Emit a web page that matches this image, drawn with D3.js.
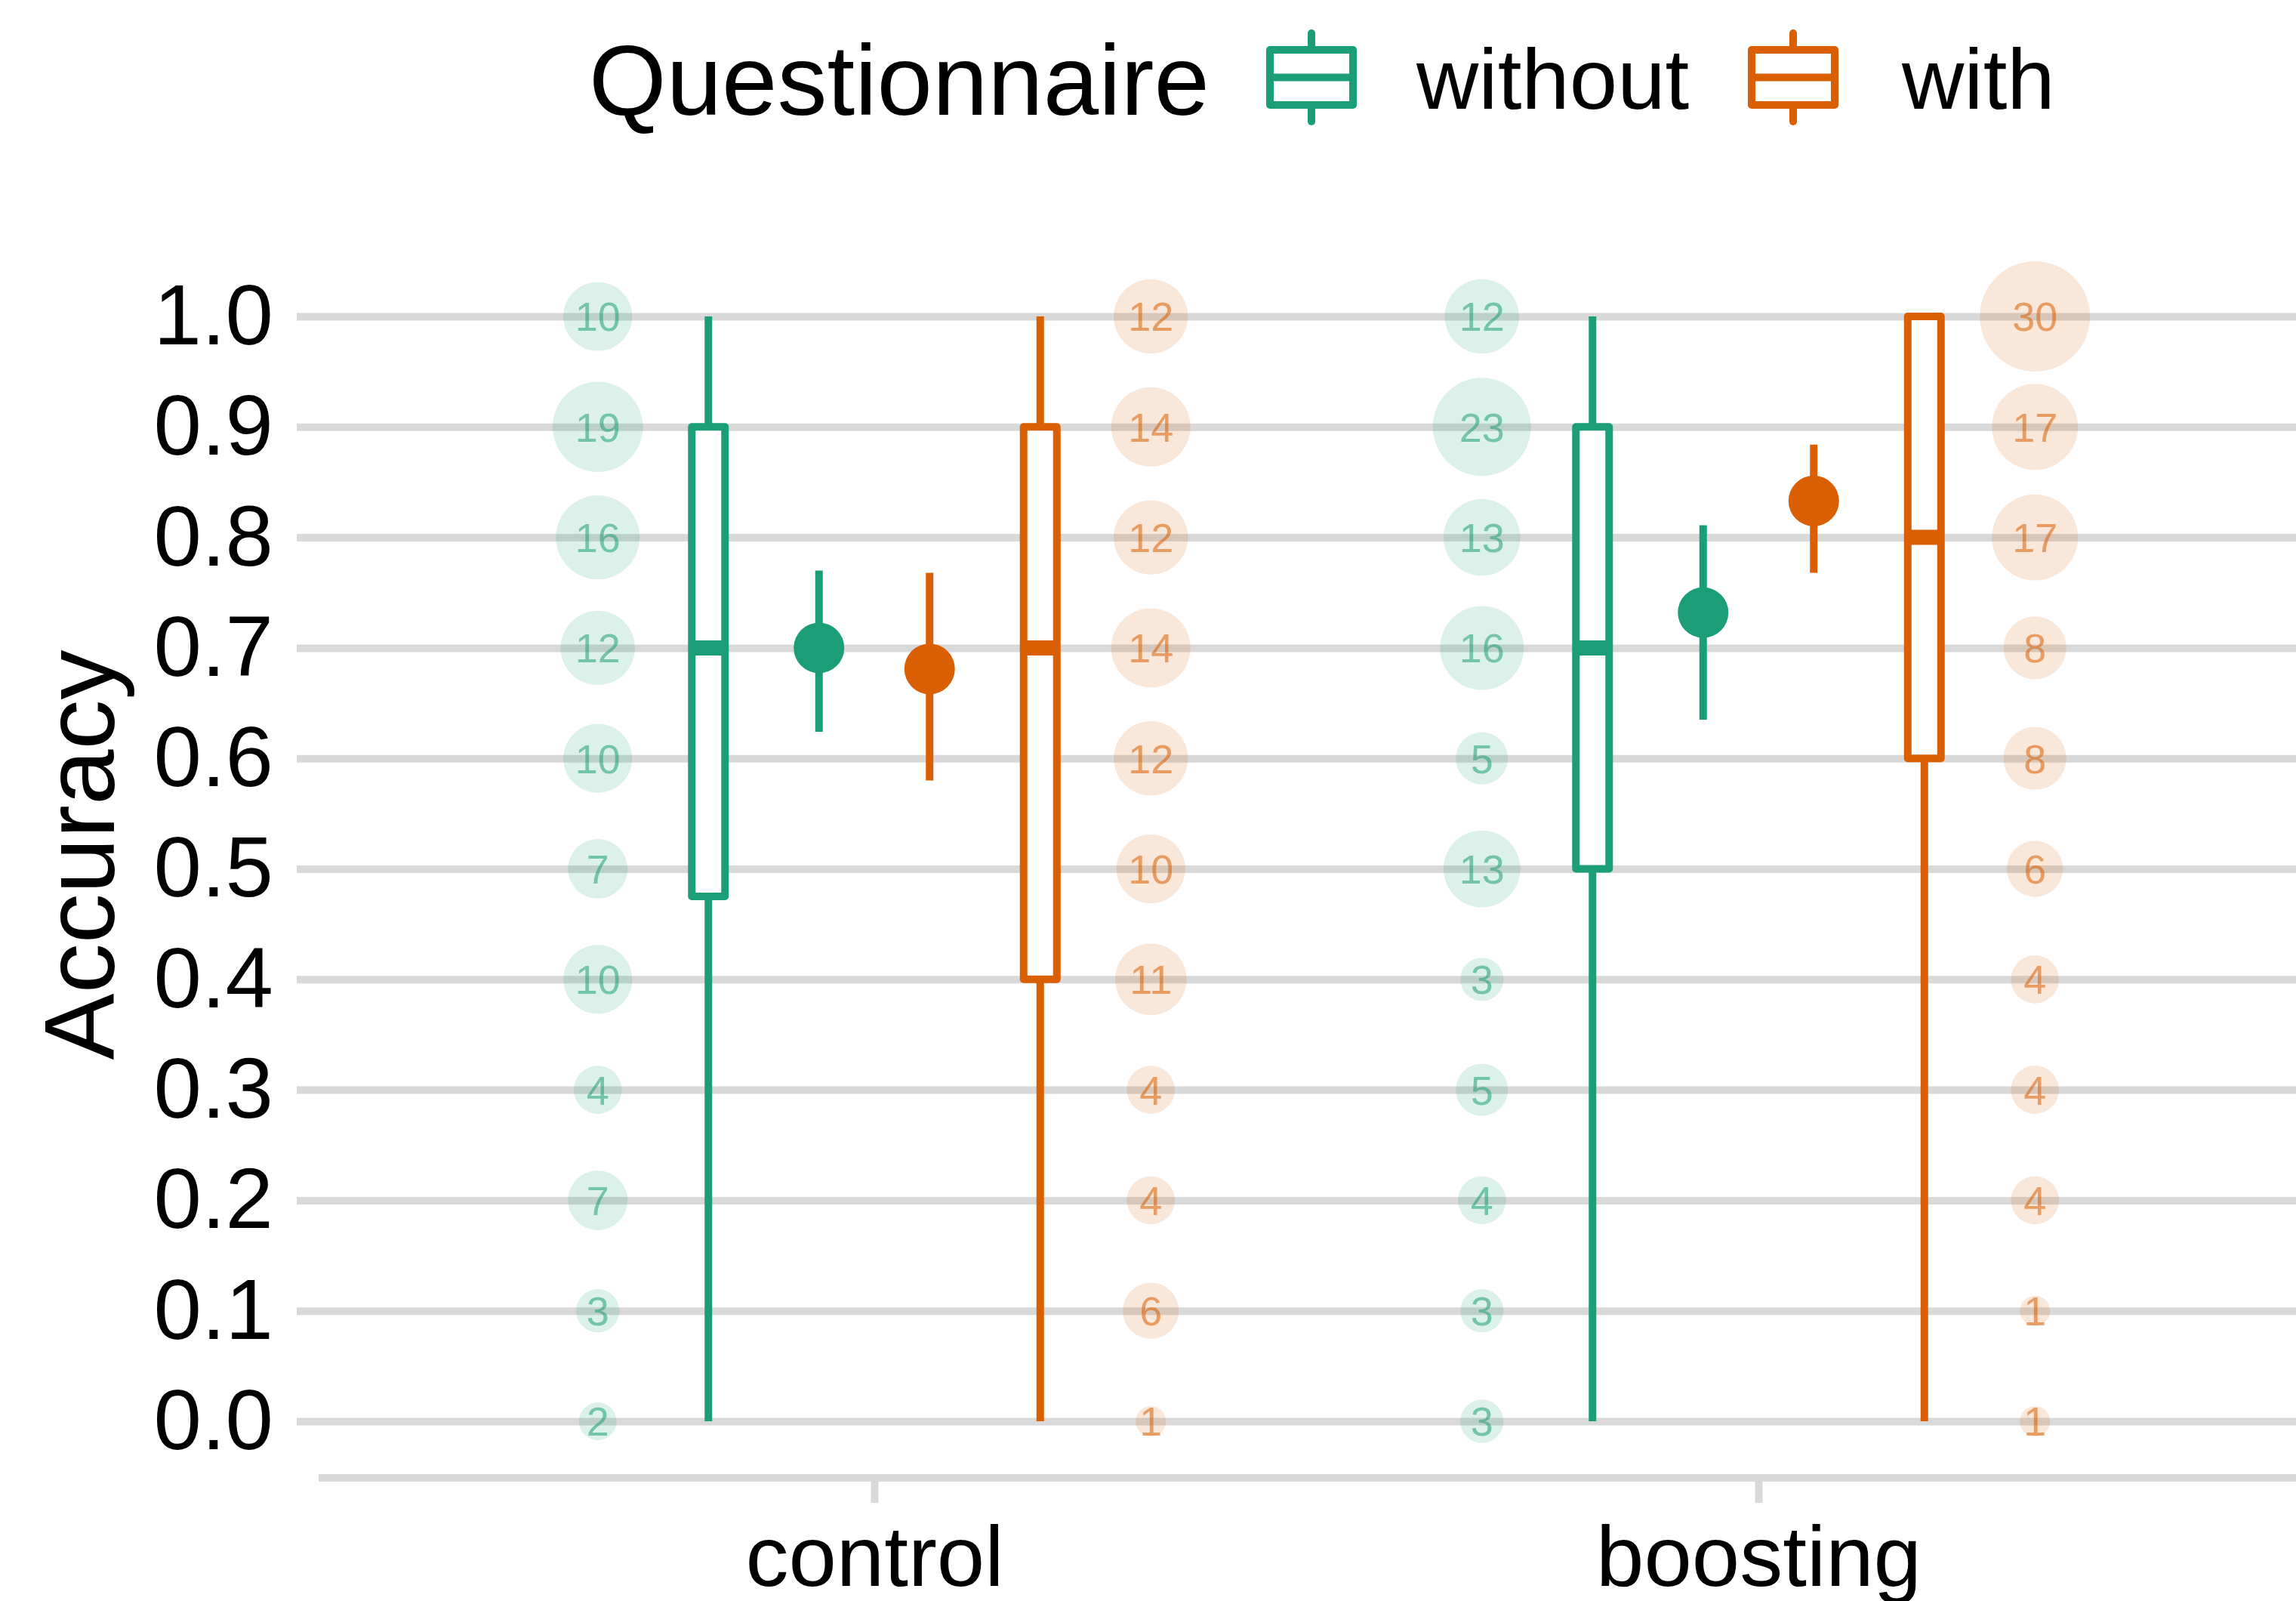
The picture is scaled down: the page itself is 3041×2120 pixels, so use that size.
<!DOCTYPE html>
<html>
<head>
<meta charset="utf-8">
<script src="https://cdn.jsdelivr.net/npm/d3@7"></script>
<style>
  html, body { margin: 0; padding: 0; background: #ffffff; }
  svg { display: block; }
  text { font-family: "Liberation Sans", Arial, Helvetica, sans-serif; }
</style>
</head>
<body>
<script>
// ---------------- data ----------------
const categories = ["control", "boosting"];
const groups = ["without", "with"];
const accuracyLevels = [0.0, 0.1, 0.2, 0.3, 0.4, 0.5, 0.6, 0.7, 0.8, 0.9, 1.0];

// counts per accuracy level (0.0 ... 1.0)
const countsControlWithout  = [2, 3, 7, 4, 10, 7, 10, 12, 16, 19, 10];
const countsControlWith     = [1, 6, 4, 4, 11, 10, 12, 14, 12, 14, 12];
const countsBoostingWithout = [3, 3, 4, 5, 3, 13, 5, 16, 13, 23, 12];
const countsBoostingWith    = [1, 1, 4, 4, 4, 6, 8, 8, 17, 17, 30];

// box statistics: [min, q1, median, q3, max]
const boxControlWithout  = [0, 0.475, 0.7, 0.9, 1.0];
const boxControlWith     = [0, 0.4, 0.7, 0.9, 1.0];
const boxBoostingWithout = [0, 0.5, 0.7, 0.9, 1.0];
const boxBoostingWith    = [0, 0.6, 0.8, 1.0, 1.0];

// mean with interval: [mean, low, high]
const meanControlWithout  = [0.700, 0.624, 0.770];
const meanControlWith     = [0.681, 0.580, 0.768];
const meanBoostingWithout = [0.732, 0.635, 0.811];
const meanBoostingWith    = [0.833, 0.768, 0.884];

const legendTitle = "Questionnaire";
const yTitle = "Accuracy";
const groupColors = ["#1B9E77", "#D95F02"];

// ---------------- assemble ----------------
const countTable = {
  control: { without: countsControlWithout, with: countsControlWith },
  boosting: { without: countsBoostingWithout, with: countsBoostingWith }
};
const boxTable = {
  control: { without: boxControlWithout, with: boxControlWith },
  boosting: { without: boxBoostingWithout, with: boxBoostingWith }
};
const meanTable = {
  control: { without: meanControlWithout, with: meanControlWith },
  boosting: { without: meanBoostingWithout, with: meanBoostingWith }
};

const W = 3041, H = 2120;
const GRID = "#d9d9d9";

const svg = d3.select("body").append("svg")
  .attr("width", W).attr("height", H)
  .attr("viewBox", `0 0 ${W} ${H}`);
svg.append("rect").attr("width", W).attr("height", H).attr("fill", "#fff");

const y = d3.scaleLinear().domain([0, 1]).range([1882, 419]);
const x = d3.scalePoint().domain(categories).range([1158, 2329]);
const dodge = d3.scaleLinear().domain([-3, 3]).range([-439.5, 439.5]);
const color = d3.scaleOrdinal(groups, groupColors);
const rScale = d3.scaleSqrt().domain([1, 30]).range([20, 73]);

// slot offsets (in dodge units)
const slot = {
  bubble: { without: -2.5, with: 2.5 },
  box:    { without: -1.5, with: 1.5 },
  mean:   { without: -0.5, with: 0.5 }
};
const px = (cat, kind, g) => x(cat) + dodge(slot[kind][g]);

// ---------------- y axis + grid ----------------
const gridLeft = 393;
const yAxis = d3.axisLeft(y)
  .tickValues(accuracyLevels)
  .tickFormat(d3.format(".1f"))
  .tickSize(-(W - gridLeft))
  .tickPadding(31);
const gy = svg.append("g").attr("transform", `translate(${gridLeft},0)`).call(yAxis);
gy.select(".domain").remove();
gy.selectAll(".tick line").attr("stroke", GRID).attr("stroke-width", 10);
gy.selectAll(".tick text")
  .attr("font-size", 114).attr("fill", "#000")
  .attr("font-family", '"Liberation Sans", Arial, sans-serif');

// ---------------- x axis ----------------
const axisY = 1957;
svg.append("line")
  .attr("x1", 422).attr("x2", W).attr("y1", axisY).attr("y2", axisY)
  .attr("stroke", GRID).attr("stroke-width", 10);
const xAxis = d3.axisBottom(x).tickSize(33).tickPadding(0);
const gx = svg.append("g").attr("transform", `translate(0,${axisY})`).call(xAxis);
gx.select(".domain").remove();
gx.selectAll(".tick line").attr("stroke", GRID).attr("stroke-width", 10);
gx.selectAll(".tick text")
  .attr("y", 2100 - axisY).attr("dy", 0)
  .attr("font-size", 114).attr("fill", "#000")
  .attr("font-family", '"Liberation Sans", Arial, sans-serif');

// ---------------- y title ----------------
svg.append("text")
  .attr("transform", `translate(151,1132) rotate(-90)`)
  .attr("text-anchor", "middle")
  .attr("font-size", 132)
  .attr("fill", "#000")
  .text(yTitle);

// ---------------- bubbles ----------------
const bubbles = [];
categories.forEach(cat => groups.forEach(g => {
  countTable[cat][g].forEach((n, i) => bubbles.push({ cat, g, v: accuracyLevels[i], n }));
}));
const gb = svg.append("g");
gb.selectAll("circle").data(bubbles).join("circle")
  .attr("cx", d => px(d.cat, "bubble", d.g))
  .attr("cy", d => y(d.v))
  .attr("r", d => rScale(d.n))
  .attr("fill", d => color(d.g))
  .attr("fill-opacity", 0.15);
gb.selectAll("text").data(bubbles).join("text")
  .attr("x", d => px(d.cat, "bubble", d.g))
  .attr("y", d => y(d.v))
  .attr("dy", "0.36em")
  .attr("text-anchor", "middle")
  .attr("font-size", 54)
  .attr("fill", d => color(d.g))
  .attr("fill-opacity", 0.55)
  .text(d => d.n);

// ---------------- boxplots ----------------
const boxW = 44, LW = 10;
const boxes = [];
categories.forEach(cat => groups.forEach(g => boxes.push({ cat, g, s: boxTable[cat][g] })));
const gbox = svg.append("g");
boxes.forEach(d => {
  const cx = px(d.cat, "box", d.g);
  const c = color(d.g);
  const [mn, q1, md, q3, mx] = d.s;
  gbox.append("line").attr("x1", cx).attr("x2", cx).attr("y1", y(q3)).attr("y2", y(mx))
    .attr("stroke", c).attr("stroke-width", LW);
  gbox.append("line").attr("x1", cx).attr("x2", cx).attr("y1", y(q1)).attr("y2", y(mn))
    .attr("stroke", c).attr("stroke-width", LW);
  gbox.append("rect")
    .attr("x", cx - boxW / 2).attr("width", boxW)
    .attr("y", y(q3)).attr("height", y(q1) - y(q3))
    .attr("fill", "#fff").attr("stroke", c).attr("stroke-width", LW)
    .attr("stroke-linejoin", "round");
  gbox.append("line").attr("x1", cx - boxW / 2).attr("x2", cx + boxW / 2)
    .attr("y1", y(md)).attr("y2", y(md))
    .attr("stroke", c).attr("stroke-width", 20);
});

// ---------------- means ----------------
const means = [];
categories.forEach(cat => groups.forEach(g => means.push({ cat, g, m: meanTable[cat][g] })));
const gm = svg.append("g");
gm.selectAll("line").data(means).join("line")
  .attr("x1", d => px(d.cat, "mean", d.g)).attr("x2", d => px(d.cat, "mean", d.g))
  .attr("y1", d => y(d.m[1])).attr("y2", d => y(d.m[2]))
  .attr("stroke", d => color(d.g)).attr("stroke-width", 10);
gm.selectAll("circle").data(means).join("circle")
  .attr("cx", d => px(d.cat, "mean", d.g))
  .attr("cy", d => y(d.m[0]))
  .attr("r", 33.5)
  .attr("fill", d => color(d.g));

// ---------------- legend ----------------
const lg = svg.append("g");
lg.append("text").attr("x", 780).attr("y", 152)
  .attr("font-size", 132).attr("fill", "#000").text(legendTitle);
const keyCenters = [1737, 2375];
const labelX = [1876, 2519];
groups.forEach((g, i) => {
  const cx = keyCenters[i], c = color(g);
  const k = lg.append("g");
  k.append("line").attr("x1", cx).attr("x2", cx).attr("y1", 44).attr("y2", 66)
    .attr("stroke", c).attr("stroke-width", LW).attr("stroke-linecap", "round");
  k.append("line").attr("x1", cx).attr("x2", cx).attr("y1", 139).attr("y2", 161)
    .attr("stroke", c).attr("stroke-width", LW).attr("stroke-linecap", "round");
  k.append("rect").attr("x", cx - 55).attr("width", 110).attr("y", 66).attr("height", 73)
    .attr("fill", "#fff").attr("stroke", c).attr("stroke-width", LW)
    .attr("stroke-linejoin", "round");
  k.append("line").attr("x1", cx - 55).attr("x2", cx + 55).attr("y1", 102.5).attr("y2", 102.5)
    .attr("stroke", c).attr("stroke-width", LW);
  lg.append("text").attr("x", labelX[i]).attr("y", 144)
    .attr("font-size", 114).attr("fill", "#000").text(g);
});
</script>
</body>
</html>
